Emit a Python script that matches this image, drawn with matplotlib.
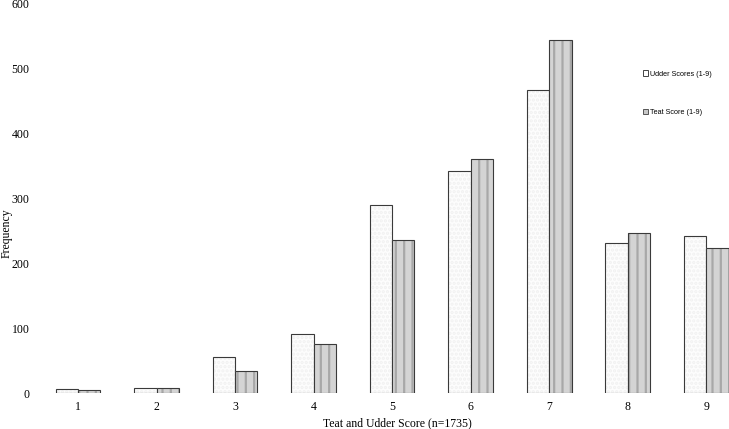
import numpy as np
import matplotlib.pyplot as plt
from matplotlib.patches import Patch

# Scores 1-9 and counts
scores = [1, 2, 3, 4, 5, 6, 7, 8, 9]
udder_counts = [6, 7, 55, 91, 290, 343, 468, 231, 242]
teat_counts = [5, 8, 34, 75, 236, 361, 545, 247, 224]

plt.rcParams['hatch.linewidth'] = 1.6

fig = plt.figure(figsize=(7.29, 4.29), dpi=100)
ax = fig.add_axes([45 / 729, 36 / 429, 684 / 729, 389 / 429])

x = np.array(scores)
w = 0.285
edge = '#3a3a3a'

# hatch colour follows edgecolor, so draw the texture first and the outline on top
ax.bar(x - w / 2, udder_counts, w, facecolor='#fdfdfd', edgecolor='#f1f1f1',
       linewidth=0, hatch='....')
ax.bar(x - w / 2, udder_counts, w, facecolor='none', edgecolor=edge, linewidth=0.8)

ax.bar(x + w / 2, teat_counts, w, facecolor='#d4d4d4', edgecolor='#a8a8a8',
       linewidth=0, hatch='||')
ax.bar(x + w / 2, teat_counts, w, facecolor='none', edgecolor=edge, linewidth=0.8)

ax.set_xlim(0.58, 9.29)
ax.set_ylim(0, 600)
ax.set_yticks(range(0, 601, 100))
ax.set_xticks(scores)
for s in ax.spines.values():
    s.set_visible(False)
ax.tick_params(axis='both', length=0, labelsize=8.5)
ax.tick_params(axis='y', pad=11)
ax.tick_params(axis='x', pad=6)
for lbl in ax.get_xticklabels() + ax.get_yticklabels():
    lbl.set_fontfamily('Liberation Serif')

ax.set_xlabel('Teat and Udder Score (n=1735)', family='Liberation Serif', fontsize=8.5)
ax.xaxis.set_label_coords(0.5146, -0.062)
fig.text(0.009, 196 / 429, 'Frequency', rotation=90, family='Liberation Serif',
         fontsize=8.5, ha='center', va='center')

handles = [Patch(facecolor='white', edgecolor='#444444', linewidth=0.7),
           Patch(facecolor='#c8c8c8', edgecolor='#555555', linewidth=0.7)]
ax.legend(handles, ['Udder Scores (1-9)', 'Teat Score (1-9)'], frameon=False,
          loc='upper left', bbox_to_anchor=(636 / 729, 1 - 64 / 429),
          bbox_transform=fig.transFigure, prop={'family': 'Liberation Sans', 'size': 5.2},
          handlelength=0.8, handleheight=0.8, handletextpad=0.3, labelspacing=4.3)

fig.savefig('out.png', dpi=100)
